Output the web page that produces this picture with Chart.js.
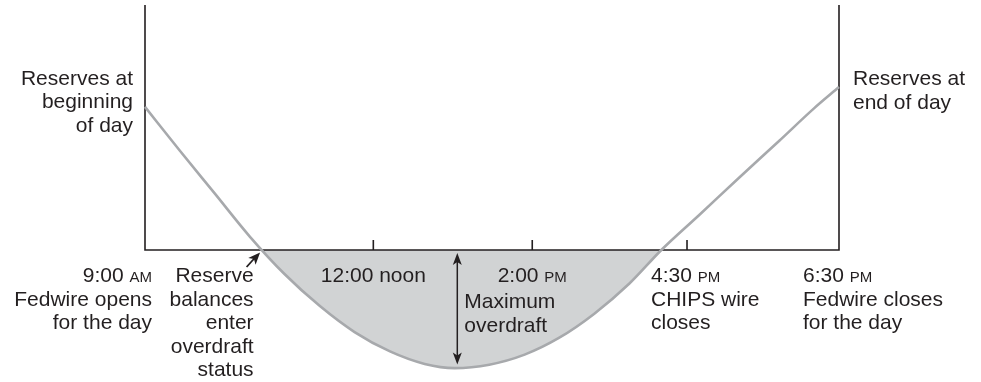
<!DOCTYPE html>
<html>
<head>
<meta charset="utf-8">
<script src="https://cdn.jsdelivr.net/npm/chart.js@4.4.0/dist/chart.umd.min.js"></script>
<style>
  body { margin: 0; background: #fff; }
  #wrap { width: 981px; height: 382px; position: relative; }
</style>
</head>
<body>
<div id="wrap"><canvas id="chart"></canvas></div>
<script>
// position along the business day: 0 = Fedwire opens, 100 = Fedwire closes
const positions = [0, 5.0, 10.1, 15.1, 20.1, 25.2, 30.2, 35.3, 40.3, 44.6, 49.6, 54.7, 59.7, 64.7, 69.8, 74.4, 79.9, 85.6, 91.4, 96.4, 100];
// reserve balance (arbitrary units, below zero = overdraft)
const reserves = [58.4, 40.6, 22.9, 5.5, -9.8, -22.9, -33.5, -41.4, -46.5, -48.2, -46.8, -42.7, -35.8, -26.1, -13.7, 0, 14.4, 29.5, 44.6, 57.8, 66.5];

const tickTimes = ['9:00 AM', '12:00 noon', '2:00 PM', '4:30 PM', '6:30 PM'];
const tickPositions = [0, 32.9, 55.8, 78.1, 100];
const tickNotes = [['Fedwire opens', 'for the day'], [], [], ['CHIPS wire', 'closes'], ['Fedwire closes', 'for the day']];

const startNote = ['Reserves at', 'beginning', 'of day'];
const endNote = ['Reserves at', 'end of day'];
const crossNote = ['Reserve', 'balances', 'enter', 'overdraft', 'status'];
const maxNote = ['Maximum', 'overdraft'];
const crossPosition = 16.8;
const maxPosition = 45.0;
const maxOverdraft = -48.0;

const INK = '#231f20';
const FONT = '"Liberation Sans", Arial, sans-serif';
const LINE_H = 23.5;

function drawTime(ctx, text, x, y, align) {
  // AM / PM are set in small caps
  const m = text.match(/^(.*?)(AM|PM)$/);
  const main = m ? m[1] : text;
  const suffix = m ? m[2] : '';
  ctx.font = `21px ${FONT}`;
  const w1 = ctx.measureText(main).width;
  ctx.font = `15px ${FONT}`;
  const w2 = ctx.measureText(suffix).width;
  let left = x;
  if (align === 'right') left = x - w1 - w2;
  if (align === 'center') left = x - (w1 + w2) / 2;
  ctx.textAlign = 'left';
  ctx.font = `21px ${FONT}`;
  ctx.fillText(main, left, y);
  ctx.font = `15px ${FONT}`;
  ctx.fillText(suffix, left + w1, y);
}

function drawLines(ctx, lines, x, y, align) {
  ctx.font = `21px ${FONT}`;
  ctx.textAlign = align;
  lines.forEach((t, i) => ctx.fillText(t, x, y + i * LINE_H));
}

function arrowHead(ctx, tx, ty, fx, fy, len, half) {
  const a = Math.atan2(ty - fy, tx - fx);
  ctx.beginPath();
  ctx.moveTo(tx, ty);
  ctx.lineTo(tx - len * Math.cos(a) + half * Math.sin(a), ty - len * Math.sin(a) - half * Math.cos(a));
  ctx.lineTo(tx - len * Math.cos(a) * 0.75, ty - len * Math.sin(a) * 0.75);
  ctx.lineTo(tx - len * Math.cos(a) - half * Math.sin(a), ty - len * Math.sin(a) + half * Math.cos(a));
  ctx.closePath();
  ctx.fill();
}

const axesPlugin = {
  id: 'axes',
  beforeDatasetsDraw(chart) {
    const { ctx, scales: { x, y } } = chart;
    const x0 = x.getPixelForValue(0), x1 = x.getPixelForValue(100);
    const yTop = y.getPixelForValue(y.max), yZero = y.getPixelForValue(0);
    ctx.save();
    ctx.strokeStyle = INK;
    ctx.lineWidth = 1.6;
    ctx.beginPath();
    ctx.moveTo(x0, yTop);
    ctx.lineTo(x0, yZero);
    ctx.lineTo(x1, yZero);
    ctx.lineTo(x1, yTop);
    tickPositions.slice(1, -1).forEach((p) => {
      const px = x.getPixelForValue(p);
      ctx.moveTo(px, yZero);
      ctx.lineTo(px, yZero - 10);
    });
    ctx.stroke();
    ctx.restore();
  },
  afterDraw(chart) {
    const { ctx, scales: { x, y } } = chart;
    const yZero = y.getPixelForValue(0);
    const base = yZero + 32;
    ctx.save();
    ctx.fillStyle = INK;
    ctx.strokeStyle = INK;
    ctx.textBaseline = 'alphabetic';

    // time labels under the axis
    tickTimes.forEach((t, i) => {
      const px = x.getPixelForValue(tickPositions[i]);
      let align = 'left', lx = px - 36;
      if (i === 0) { align = 'right'; lx = px + 7; }
      if (i === 1 || i === 2) { align = 'center'; lx = px; }
      drawTime(ctx, t, lx, base, align);
      drawLines(ctx, tickNotes[i], lx, base + LINE_H, align);
    });

    // start / end of day notes
    const ys = y.getPixelForValue(reserves[0]);
    drawLines(ctx, startNote, x.getPixelForValue(0) - 12, ys - 22, 'right');
    const ye = y.getPixelForValue(reserves[reserves.length - 1]);
    drawLines(ctx, endNote, x.getPixelForValue(100) + 14, ye - 2, 'left');

    // overdraft entry note and arrow
    const cx = x.getPixelForValue(crossPosition);
    drawLines(ctx, crossNote, cx - 8, base, 'right');
    ctx.lineWidth = 1.8;
    ctx.beginPath();
    ctx.moveTo(cx - 15, yZero + 17);
    ctx.lineTo(cx - 6, yZero + 7);
    ctx.stroke();
    arrowHead(ctx, cx - 1.5, yZero + 2.5, cx - 15, yZero + 17, 12, 5);

    // maximum overdraft double arrow
    const mx = x.getPixelForValue(maxPosition);
    const yTip = yZero + 3, yBot = y.getPixelForValue(maxOverdraft) - 3;
    ctx.lineWidth = 1.5;
    ctx.beginPath();
    ctx.moveTo(mx, yTip + 6);
    ctx.lineTo(mx, yBot - 6);
    ctx.stroke();
    arrowHead(ctx, mx, yTip, mx, yBot, 12, 4.5);
    arrowHead(ctx, mx, yBot, mx, yTip, 12, 4.5);
    drawLines(ctx, maxNote, mx + 7, yZero + 58, 'left');
    ctx.restore();
  }
};

new Chart(document.getElementById('chart'), {
  type: 'line',
  data: {
    datasets: [{
      data: positions.map((p, i) => ({ x: p, y: reserves[i] })),
      borderColor: '#a7a9ac',
      borderWidth: 2.6,
      pointRadius: 0,
      cubicInterpolationMode: 'monotone',
      clip: false,
      fill: { target: { value: 0 }, above: 'rgba(0,0,0,0)', below: '#d1d3d4' }
    }]
  },
  options: {
    responsive: true,
    maintainAspectRatio: false,
    animation: false,
    layout: { padding: { left: 145, right: 142, top: 5, bottom: 9.5 } },
    scales: {
      x: { type: 'linear', min: 0, max: 100, display: false },
      y: { min: -50, max: 100, display: false }
    },
    plugins: {
      legend: { display: false },
      tooltip: { enabled: false },
      filler: { drawTime: 'beforeDatasetsDraw' }
    }
  },
  plugins: [axesPlugin]
});
</script>
</body>
</html>
